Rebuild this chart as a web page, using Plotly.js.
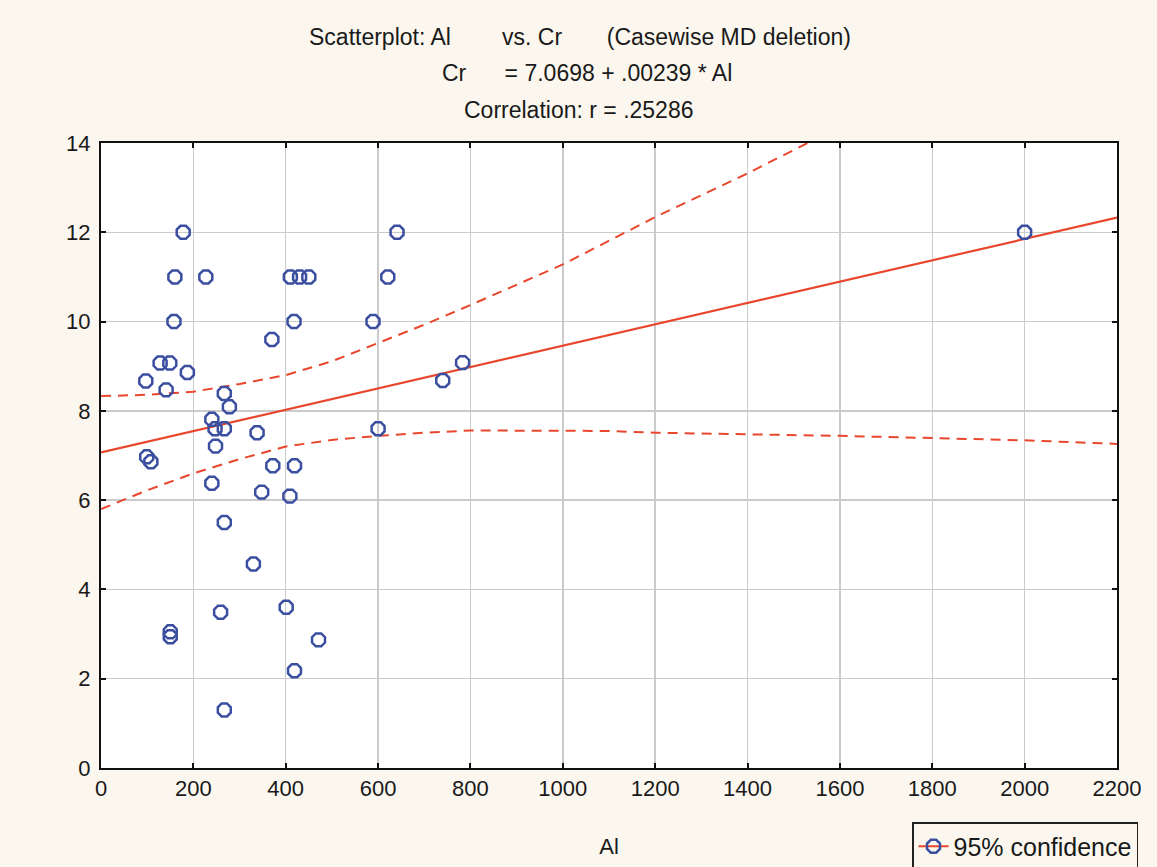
<!DOCTYPE html>
<html>
<head>
<meta charset="utf-8">
<script src="https://cdn.plot.ly/plotly-3.0.1.min.js"></script>
<style>html,body{margin:0;padding:0;background:#fbf7ef;}</style>
</head>
<body>
<div id="chart" style="width:1157px;height:867px;"></div>
<script>
// Observations (Al vs Cr)
const alValues = [178, 160, 227, 410, 430, 450, 158, 418, 589, 621, 641, 370,
  128, 149, 187, 97, 141, 267, 278, 240, 247, 267, 338, 248, 99, 108,
  372, 419, 240, 348, 409, 600, 740, 783, 2000, 267, 330, 259, 401,
  150, 150, 471, 419, 267];
const crValues = [12.0, 11.0, 11.0, 11.0, 11.0, 11.0, 10.0, 10.0, 10.0, 11.0, 12.0, 9.6,
  9.07, 9.07, 8.86, 8.67, 8.47, 8.39, 8.09, 7.81, 7.6, 7.6, 7.51, 7.21, 6.97, 6.86,
  6.77, 6.77, 6.38, 6.18, 6.09, 7.6, 8.68, 9.08, 12.0, 5.5, 4.57, 3.49, 3.6,
  3.05, 2.94, 2.87, 2.18, 1.3];

// Regression stated in the chart header
const intercept = 7.0698;
const slope = 0.00239;
const fitX = [0, 2200];

// 95% confidence band
const bandUpperX = [0, 100, 200, 300, 400, 500, 600, 700, 800, 1000, 1200, 1400, 1530];
const bandUpperY = [8.33, 8.36, 8.43, 8.60, 8.80, 9.11, 9.52, 9.93, 10.37, 11.28, 12.34, 13.32, 14.0];
const bandLowerX = [0, 100, 200, 300, 400, 500, 600, 700, 800, 1000, 1100, 1200, 1400, 1600, 1800, 2000, 2200];
const bandLowerY = [5.80, 6.22, 6.60, 6.92, 7.20, 7.35, 7.44, 7.51, 7.56, 7.56, 7.55, 7.51, 7.48, 7.44, 7.39, 7.34, 7.26];

const xTicks = [0, 200, 400, 600, 800, 1000, 1200, 1400, 1600, 1800, 2000, 2200];
const yTicks = [0, 2, 4, 6, 8, 10, 12, 14];

const S = '\u00a0';
const titleLines = [
  'Scatterplot: Al' + S.repeat(8) + 'vs. Cr' + S.repeat(7) + '(Casewise MD deletion)',
  'Cr' + S.repeat(6) + '= 7.0698 + .00239 * Al',
  'Correlation: r = .25286'
];
const legendName = '95% confidence';

const RED = '#e8472e';
const BLUE = '#3b4fa0';
const FONT = 'Liberation Sans, Arial, sans-serif';
const TXT = '#1a1a1a';

// Interleave points with gaps so the legend glyph shows line+marker but no line is drawn
const sx = [], sy = [];
alValues.forEach((v, i) => { sx.push(v, null); sy.push(crValues[i], null); });

const fitY = fitX.map(x => intercept + slope * x);

const traces = [
  {x: bandUpperX, y: bandUpperY, mode: 'lines', showlegend: false, hoverinfo: 'skip',
   line: {color: RED, width: 2, dash: '10px,7px'}},
  {x: bandLowerX, y: bandLowerY, mode: 'lines', showlegend: false, hoverinfo: 'skip',
   line: {color: RED, width: 2, dash: '10px,7px'}},
  {x: fitX, y: fitY, mode: 'lines', showlegend: false, hoverinfo: 'skip',
   line: {color: RED, width: 2.2}},
  {x: sx, y: sy, mode: 'lines+markers', name: legendName, connectgaps: false,
   line: {color: RED, width: 2},
   marker: {symbol: 'octagon-open', size: 14, color: BLUE, line: {width: 2.5, color: BLUE}}}
];

const axisCommon = {
  showline: true, linecolor: '#111', linewidth: 2, mirror: 'ticks',
  ticks: 'inside', ticklen: 5, tickcolor: '#111', tickwidth: 2,
  showgrid: true, gridcolor: '#cbcbcb', gridwidth: 1.5,
  zeroline: false, automargin: false,
  tickfont: {family: FONT, size: 22, color: TXT}
};

const annotations = titleLines.map((t, i) => ({
  text: t, xref: 'paper', yref: 'paper', x: [0.4715, 0.478, 0.4705][i], y: [1.170, 1.112, 1.053][i],
  xanchor: 'center', yanchor: 'middle', showarrow: false,
  font: {family: FONT, size: 23, color: TXT}
}));

const layout = {
  width: 1157, height: 867,
  margin: {l: 101, r: 40, t: 143, b: 99, autoexpand: false},
  paper_bgcolor: '#fbf7ef', plot_bgcolor: '#ffffff',
  font: {family: FONT, size: 20, color: TXT},
  xaxis: Object.assign({}, axisCommon, {range: [0, 2200], tickvals: xTicks,
    title: {text: 'Al', font: {family: FONT, size: 22, color: TXT}, standoff: 38}}),
  yaxis: Object.assign({}, axisCommon, {range: [0, 14], tickvals: yTicks, ticklabelstandoff: 4}),
  showlegend: true,
  legend: {x: 912 / 1157, xref: 'container', y: 1 - 822 / 867, yref: 'container',
    xanchor: 'left', yanchor: 'top',
    bgcolor: '#fbf7ef', bordercolor: '#222', borderwidth: 1.5,
    font: {family: FONT, size: 25, color: TXT}},
  annotations: annotations
};

Plotly.newPlot('chart', traces, layout, {displayModeBar: false, staticPlot: true});
</script>
</body>
</html>
